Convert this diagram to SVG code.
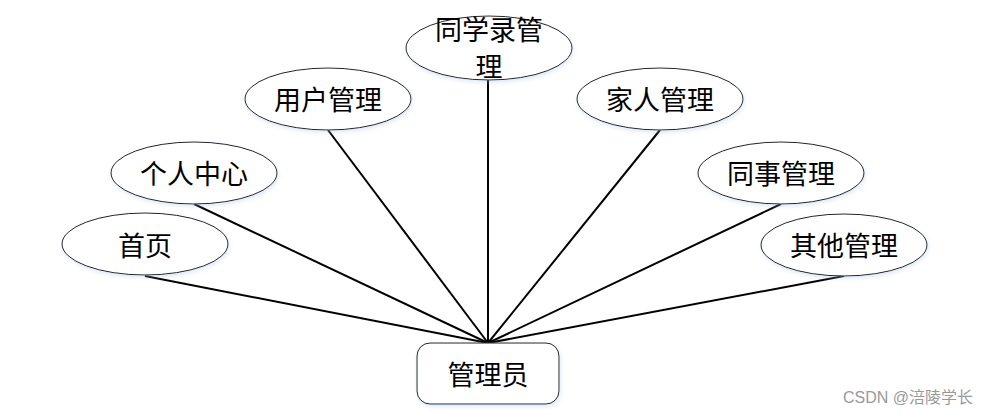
<svg xmlns="http://www.w3.org/2000/svg" width="997" height="415" viewBox="0 0 997 415">
<defs>
<filter id="glow" x="-20%" y="-30%" width="140%" height="160%">
<feDropShadow dx="1" dy="2" stdDeviation="2" flood-color="#9fb8e6" flood-opacity="0.35"/>
</filter>
<style>
.node ellipse, .node rect { fill: #ffffff; stroke: #222; stroke-width: 1; filter: url(#glow); }
.node text { font-family: "Noto Sans CJK SC", "Liberation Serif", serif; font-size: 27px; fill: #000; text-anchor: middle; dominant-baseline: central; }
.conn line { stroke: #000; stroke-width: 2; }
.wm { font-family: "Liberation Sans", "Noto Sans CJK SC", sans-serif; font-size: 16px; fill: #999; }
</style>
</defs>
<rect width="997" height="415" fill="#fff"/>
<g id="connectors" class="conn">
<line x1="145" y1="276" x2="488" y2="343"/>
<line x1="194" y1="204" x2="488" y2="343"/>
<line x1="328" y1="130" x2="488" y2="343"/>
<line x1="488" y1="80" x2="488" y2="343"/>
<line x1="660" y1="130" x2="488" y2="343"/>
<line x1="781" y1="204" x2="488" y2="343"/>
<line x1="844" y1="276" x2="488" y2="343"/>
</g>
<g id="n-shouye" class="node"><ellipse cx="145" cy="244" rx="83" ry="31"/><text x="145" y="244">首页</text></g>
<g id="n-gerenzhongxin" class="node"><ellipse cx="194" cy="173" rx="83" ry="31"/><text x="194" y="172">个人中心</text></g>
<g id="n-yonghu" class="node"><ellipse cx="328" cy="99" rx="83" ry="31"/><text x="328" y="98">用户管理</text></g>
<g id="n-tongxuelu" class="node"><ellipse cx="489" cy="48" rx="83" ry="32"/><text x="489" y="28">同学录管</text><text x="489" y="65">理</text></g>
<g id="n-jiaren" class="node"><ellipse cx="660" cy="99" rx="83" ry="31"/><text x="660" y="98">家人管理</text></g>
<g id="n-tongshi" class="node"><ellipse cx="781" cy="173" rx="83" ry="31"/><text x="781" y="172">同事管理</text></g>
<g id="n-qita" class="node"><ellipse cx="844" cy="245" rx="83" ry="31"/><text x="844" y="244">其他管理</text></g>
<g id="n-admin" class="node"><rect x="417" y="343" width="142" height="61" rx="13"/><text x="488" y="373">管理员</text></g>
<text class="wm" x="843" y="403">CSDN @涪陵学长</text>
</svg>
